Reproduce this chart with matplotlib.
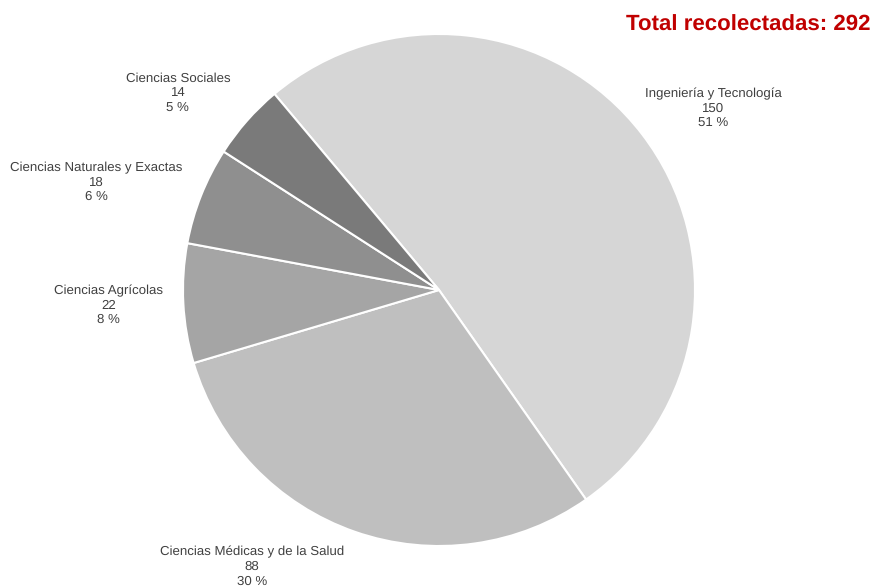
import matplotlib
matplotlib.use("Agg")
import matplotlib.pyplot as plt

plt.rcParams["font.family"] = ["Liberation Sans", "DejaVu Sans"]
plt.rcParams["text.hinting"] = "no_hinting"

categories = [
    "Ingeniería y Tecnología",
    "Ciencias Médicas y de la Salud",
    "Ciencias Agrícolas",
    "Ciencias Naturales y Exactas",
    "Ciencias Sociales",
]
counts = [150, 88, 22, 18, 14]
colors = ["#d6d6d6", "#bfbfbf", "#a5a5a5", "#8f8f8f", "#7a7a7a"]

# label anchor positions (data units, pie radius = 1)
label_pos = [(1.07, 0.71), (-0.73, -1.08), (-1.29, -0.06), (-1.34, 0.42), (-1.02, 0.77)]

total = sum(counts)

W, H = 874, 587
fig = plt.figure(figsize=(W / 100, H / 100), dpi=100)
cx, cy, r = 439, 290, 256
ax = fig.add_axes([(cx - r) / W, (H - cy - r) / H, 2 * r / W, 2 * r / H])
ax.pie(counts, colors=colors, startangle=130, counterclock=False, radius=1,
       wedgeprops=dict(edgecolor="white", linewidth=1.5))
ax.set_xlim(-1, 1)
ax.set_ylim(-1, 1)
ax.set_aspect("equal")
ax.axis("off")

for name, n, (x, y) in zip(categories, counts, label_pos):
    pct = round(100 * n / total)
    ax.text(x, y, f"{name}\n{n}\n{pct} %", ha="center", va="center",
            fontsize=9.5, color="#404040", linespacing=1.25, clip_on=False)

fig.text(871 / W, 1 - 25 / H, f"Total recolectadas: {total}", ha="right", va="center",
         fontsize=16, fontweight="bold", color="#c00000")

fig.savefig("out.png", dpi=100)
